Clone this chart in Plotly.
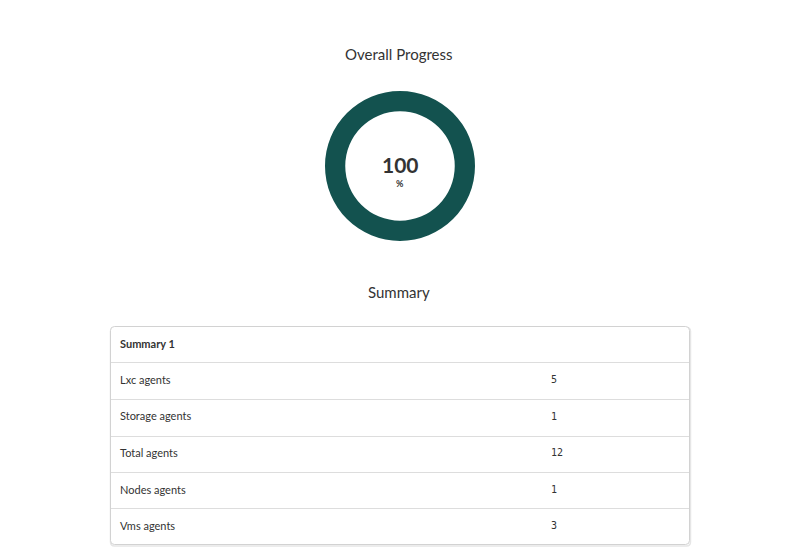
import plotly.graph_objects as go

W, H = 798, 554

progress_labels = ["Done"]
progress_values = [100]
progress_pct = 100

table_header = ["Summary 1", ""]
row_labels = ["Lxc agents", "Storage agents", "Total agents", "Nodes agents", "Vms agents"]
row_values = [5, 1, 12, 1, 3]

TEAL = "#13524f"
TXT = "#333333"

def px_x(x):
    return x / W

def px_y(y):
    return 1 - y / H

fig = go.Figure()

fig.add_trace(go.Pie(
    labels=progress_labels, values=progress_values, hole=0.73,
    marker=dict(colors=[TEAL], line=dict(width=0)),
    textinfo="none", hoverinfo="label+value", sort=False, showlegend=False,
    domain=dict(x=[px_x(325), px_x(475)], y=[px_y(241), px_y(91)]),
))

# frame of the table (lines drawn as shapes)
tx0, tx1, ty0, ty1 = 110, 690, 326, 545
# table text block (shifted slightly so text sits centred in the rows)
cx0, cx1, cy0 = 112, 692, 329
hdr_h, row_h = 38.5, 36.6
cy1 = cy0 + hdr_h + row_h * len(row_labels)

fig.add_trace(go.Table(
    domain=dict(x=[px_x(cx0), px_x(cx1)], y=[px_y(cy1), px_y(cy0)]),
    columnwidth=[431, 149],
    header=dict(
        values=["<b>%s</b>" % h if h else "" for h in table_header],
        align="left", height=hdr_h,
        font=dict(family="Lato", size=11, color=TXT),
        fill=dict(color="rgba(0,0,0,0)"), line=dict(color="rgba(0,0,0,0)", width=0),
    ),
    cells=dict(
        values=[row_labels, row_values],
        align="left", height=row_h,
        font=dict(family=["Lato", "DejaVu Sans Mono"], size=[11, 10], color=TXT),
        fill=dict(color="rgba(0,0,0,0)"), line=dict(color="rgba(0,0,0,0)", width=0),
    ),
))

def rounded(x0, y0, x1, y1, r):
    return (f"M {px_x(x0 + r)},{px_y(y0)} L {px_x(x1 - r)},{px_y(y0)} "
            f"Q {px_x(x1)},{px_y(y0)} {px_x(x1)},{px_y(y0 + r)} "
            f"L {px_x(x1)},{px_y(y1 - r)} Q {px_x(x1)},{px_y(y1)} {px_x(x1 - r)},{px_y(y1)} "
            f"L {px_x(x0 + r)},{px_y(y1)} Q {px_x(x0)},{px_y(y1)} {px_x(x0)},{px_y(y1 - r)} "
            f"L {px_x(x0)},{px_y(y0 + r)} Q {px_x(x0)},{px_y(y0)} {px_x(x0 + r)},{px_y(y0)} Z")

shapes = []
# soft shadow
shapes.append(dict(type="path", xref="paper", yref="paper",
                   path=rounded(tx0 + 0.5, ty0 + 1.5, tx1 + 0.5, ty1 + 1.0, 4),
                   line=dict(color="#e6e6e6", width=1.5), layer="below"))
shapes.append(dict(type="path", xref="paper", yref="paper",
                   path=rounded(tx0 + 0.5, ty0 + 0.5, tx1 - 0.5, ty1 - 0.5, 4),
                   line=dict(color="#d2d2d2", width=1), fillcolor="white", layer="below"))
for i in range(1, 6):
    y = round(ty0 + i * (ty1 - ty0) / 6) + 0.5
    shapes.append(dict(type="line", xref="paper", yref="paper",
                       x0=px_x(tx0 + 1), x1=px_x(tx1 - 1), y0=px_y(y), y1=px_y(y),
                       line=dict(color="#dddddd", width=1), layer="below"))

annotations = [
    dict(text="Overall Progress", x=0.5, y=px_y(54), xref="paper", yref="paper",
         showarrow=False, font=dict(family="Lato", size=15, color=TXT), yanchor="middle"),
    dict(text="Summary", x=0.5, y=px_y(291.5), xref="paper", yref="paper",
         showarrow=False, font=dict(family="Lato", size=15, color=TXT), yanchor="middle"),
    dict(text="<b>%d</b>" % progress_pct, x=px_x(400), y=px_y(164), xref="paper", yref="paper",
         showarrow=False, font=dict(family="Lato", size=21, color=TXT), yanchor="middle"),
    dict(text="<b>%</b>", x=px_x(400), y=px_y(183), xref="paper", yref="paper",
         showarrow=False, font=dict(family="Lato", size=9, color=TXT), yanchor="middle"),
]

fig.update_layout(
    width=W, height=H, margin=dict(l=0, r=0, t=0, b=0),
    paper_bgcolor="white", plot_bgcolor="white",
    shapes=shapes, annotations=annotations, showlegend=False,
)

fig.write_html("out.html")
